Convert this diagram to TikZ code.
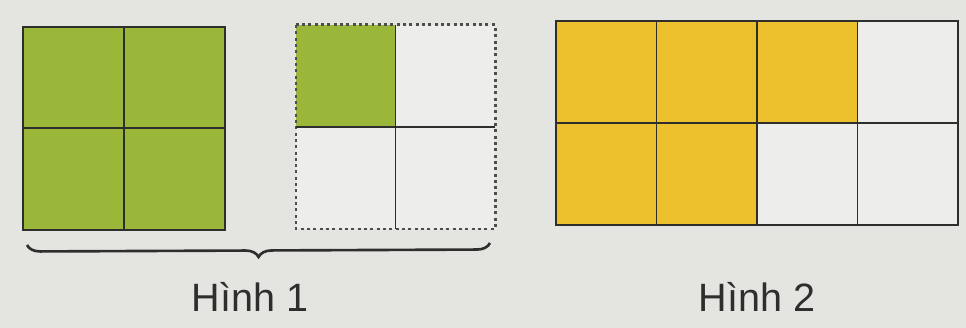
\documentclass[tikz,border=0pt]{standalone}
\usepackage{fontspec}
\setmainfont{Liberation Sans}
\definecolor{paperbg}{HTML}{E4E4E1}
\definecolor{cellbg}{HTML}{EDEDEB}
\definecolor{leafgreen}{HTML}{9AB73A}
\definecolor{sunyellow}{HTML}{EDC02E}
\definecolor{inkgrey}{HTML}{2E2E2C}
\usetikzlibrary{decorations.pathreplacing}

\begin{document}
\begin{tikzpicture}[
            sq/.style={draw=inkgrey, line width=1pt, minimum width=2.02cm,
                       minimum height=2.03cm, inner sep=0pt, outer sep=0pt},
            pale/.style={minimum width=1.99cm, minimum height=2.04cm,
                         inner sep=0pt, outer sep=0pt},
            wide/.style={draw=inkgrey, line width=0.9pt, minimum width=2.01cm,
                         minimum height=2.04cm, inner sep=0pt, outer sep=0pt},
            caption/.style={anchor=base, text=inkgrey, font=\fontsize{22.5}{26}\selectfont}]
        \fill[paperbg] (0,0) rectangle (19.32,6.56);
        \useasboundingbox (0,0) rectangle (19.32,6.56);
        % Hinh 1, left square
        \node[sq, fill=leafgreen] (a1) at (1.47,5.01) {};
        \node[sq, fill=leafgreen] (a2) at (3.49,5.01) {};
        \node[sq, fill=leafgreen] (a3) at (1.47,2.98) {};
        \node[sq, fill=leafgreen] (a4) at (3.49,2.98) {};
        % Hinh 1, dotted square
        \node[pale, fill=leafgreen] (b1) at (6.915,5.04) {};
        \node[pale, fill=cellbg]    (b2) at (8.905,5.04) {};
        \node[pale, fill=cellbg]    (b3) at (6.915,3.00) {};
        \node[pale, fill=cellbg]    (b4) at (8.905,3.00) {};
        \draw[inkgrey!85, line width=1.7pt, dash pattern=on 1.7pt off 1.9pt]
              (b1.north west) rectangle (b4.south east);
        \draw[inkgrey, line width=0.9pt] (b1.north east)--(b3.south east) (b1.south west)--(b2.south east);
        \coordinate (brL) at (0.54,1.66);
        \coordinate (brR) at (9.80,1.70);
        \draw[inkgrey, line width=1.5pt, decorate,
              decoration={brace, mirror, amplitude=0.26cm}] (brL)--(brR);
        \node[caption] (h1) at (5.0,0.32) {Hình 1};
        % Hinh 2
        \node[wide, fill=sunyellow] (c1) at (12.125,5.12) {};
        \node[wide, fill=sunyellow] (c2) at (14.135,5.12) {};
        \node[wide, fill=sunyellow] (c3) at (16.145,5.12) {};
        \node[wide, fill=cellbg]    (c4) at (18.155,5.12) {};
        \node[wide, fill=sunyellow] (c5) at (12.125,3.08) {};
        \node[wide, fill=sunyellow] (c6) at (14.135,3.08) {};
        \node[wide, fill=cellbg]    (c7) at (16.145,3.08) {};
        \node[wide, fill=cellbg]    (c8) at (18.155,3.08) {};
        \node[caption] (h2) at (15.14,0.32) {Hình 2};
      \end{tikzpicture}
\end{document}
